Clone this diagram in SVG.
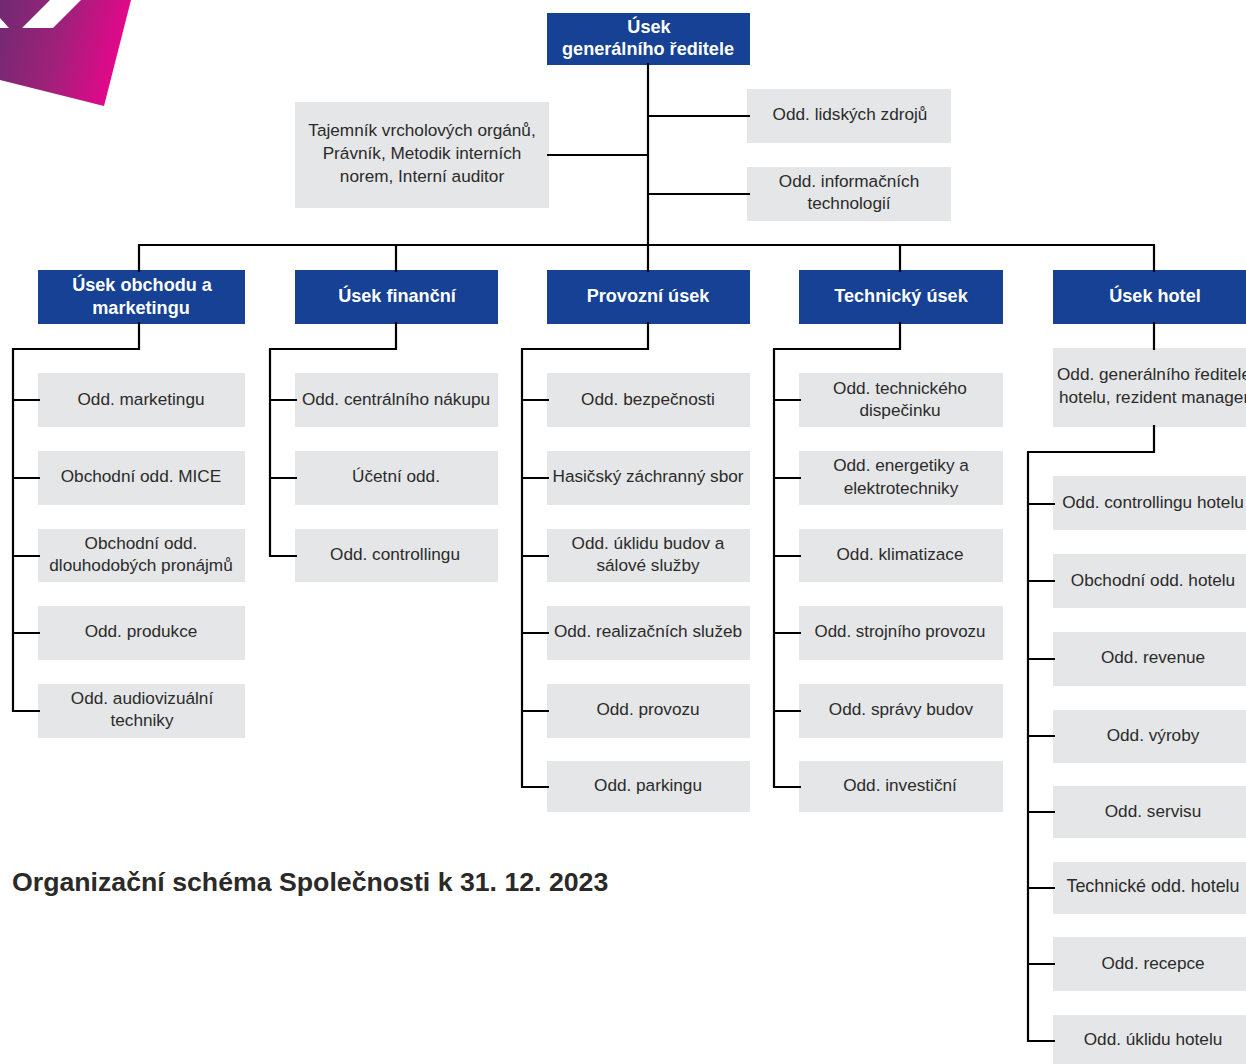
<svg xmlns="http://www.w3.org/2000/svg" width="1246" height="1064" viewBox="0 0 1246 1064">
<style>
.h{fill:#164194}.o{fill:#e5e6e8}
text{font-family:"Liberation Sans",Arial,sans-serif;text-anchor:middle}
.ht{font-size:18.1px;font-weight:bold;fill:#fff}
.ot{font-size:17.2px;fill:#2b2b2a;transform:translateY(-0.6px)}
.c{fill:none;stroke:#000;stroke-width:2.2}
</style>
<defs><linearGradient id="g" gradientUnits="userSpaceOnUse" x1="0" y1="0" x2="123" y2="31"><stop offset="0" stop-color="#702b72"/><stop offset="0.55" stop-color="#a2207a"/><stop offset="1" stop-color="#e2088a"/></linearGradient></defs>
<path id="logo" fill="url(#g)" d="M0 0H50L22 28H53L81 0H131L104 106L0 80V28H9L0 18Z"/>
<g id="n0"><rect class="h" x="547" y="13" width="203" height="52"/><text class="ht"><tspan x="649" y="33">Úsek</tspan><tspan x="648" y="55">generálního ředitele</tspan></text></g>
<g id="n1"><rect class="o" x="747" y="89" width="204" height="54"/><text class="ot" x="850" y="121">Odd. lidských zdrojů</text></g>
<g id="n2"><rect class="o" x="747" y="167" width="204" height="54"/><text class="ot"><tspan x="849" y="188">Odd. informačních</tspan><tspan x="849" y="210">technologií</tspan></text></g>
<g id="n3"><rect class="o" x="295" y="102" width="254" height="106"/><text class="ot"><tspan x="422" y="137">Tajemník vrcholových orgánů,</tspan><tspan x="422" y="160">Právník, Metodik interních</tspan><tspan x="422" y="183">norem, Interní auditor</tspan></text></g>
<g id="h1"><rect class="h" x="38" y="270" width="207" height="54"/><text class="ht"><tspan x="142" y="291">Úsek obchodu a</tspan><tspan x="141" y="314">marketingu</tspan></text></g>
<g id="h2"><rect class="h" x="295" y="270" width="203" height="54"/><text class="ht" x="397" y="302">Úsek finanční</text></g>
<g id="h3"><rect class="h" x="547" y="270" width="203" height="54"/><text class="ht" x="648" y="302">Provozní úsek</text></g>
<g id="h4"><rect class="h" x="799" y="270" width="204" height="54"/><text class="ht" x="901" y="302">Technický úsek</text></g>
<g id="h5"><rect class="h" x="1053" y="270" width="193" height="54"/><text class="ht" x="1155" y="302">Úsek hotel</text></g>
<g id="a1"><rect class="o" x="38" y="373" width="207" height="54"/><text class="ot" x="141" y="406">Odd. marketingu</text></g>
<g id="a2"><rect class="o" x="38" y="451" width="207" height="54"/><text class="ot" x="141" y="483">Obchodní odd. MICE</text></g>
<g id="a3"><rect class="o" x="38" y="529" width="207" height="53"/><text class="ot"><tspan x="141" y="550">Obchodní odd.</tspan><tspan x="141" y="572">dlouhodobých pronájmů</tspan></text></g>
<g id="a4"><rect class="o" x="38" y="606" width="207" height="54"/><text class="ot" x="141" y="638">Odd. produkce</text></g>
<g id="a5"><rect class="o" x="38" y="684" width="207" height="54"/><text class="ot"><tspan x="142" y="705">Odd. audiovizuální</tspan><tspan x="142" y="727">techniky</tspan></text></g>
<g id="b1"><rect class="o" x="295" y="373" width="203" height="54"/><text class="ot" x="396" y="406">Odd. centrálního nákupu</text></g>
<g id="b2"><rect class="o" x="295" y="451" width="203" height="54"/><text class="ot" x="396" y="483">Účetní odd.</text></g>
<g id="b3"><rect class="o" x="295" y="529" width="203" height="53"/><text class="ot" x="395" y="561">Odd. controllingu</text></g>
<g id="c1"><rect class="o" x="547" y="373" width="203" height="54"/><text class="ot" x="648" y="406">Odd. bezpečnosti</text></g>
<g id="c2"><rect class="o" x="547" y="451" width="203" height="54"/><text class="ot" x="648" y="483">Hasičský záchranný sbor</text></g>
<g id="c3"><rect class="o" x="547" y="529" width="203" height="53"/><text class="ot"><tspan x="648" y="550">Odd. úklidu budov a</tspan><tspan x="648" y="572">sálové služby</tspan></text></g>
<g id="c4"><rect class="o" x="547" y="606" width="203" height="54"/><text class="ot" x="648" y="638">Odd. realizačních služeb</text></g>
<g id="c5"><rect class="o" x="547" y="684" width="203" height="54"/><text class="ot" x="648" y="716">Odd. provozu</text></g>
<g id="c6"><rect class="o" x="547" y="761" width="203" height="51"/><text class="ot" x="648" y="792">Odd. parkingu</text></g>
<g id="d1"><rect class="o" x="799" y="373" width="204" height="54"/><text class="ot"><tspan x="900" y="395">Odd. technického</tspan><tspan x="900" y="417">dispečinku</tspan></text></g>
<g id="d2"><rect class="o" x="799" y="451" width="204" height="54"/><text class="ot"><tspan x="901" y="472">Odd. energetiky a</tspan><tspan x="901" y="495">elektrotechniky</tspan></text></g>
<g id="d3"><rect class="o" x="799" y="529" width="204" height="53"/><text class="ot" x="900" y="561">Odd. klimatizace</text></g>
<g id="d4"><rect class="o" x="799" y="606" width="204" height="54"/><text class="ot" x="900" y="638" style="font-size:16.9px">Odd. strojního provozu</text></g>
<g id="d5"><rect class="o" x="799" y="684" width="204" height="54"/><text class="ot" x="901" y="716">Odd. správy budov</text></g>
<g id="d6"><rect class="o" x="799" y="761" width="204" height="51"/><text class="ot" x="900" y="792">Odd. investiční</text></g>
<g id="e0"><rect class="o" x="1053" y="348" width="193" height="79"/><text class="ot"><tspan x="1057" y="381" style="text-anchor:start">Odd. generálního ředitele</tspan><tspan x="1059" y="404" style="text-anchor:start">hotelu, rezident manager</tspan></text></g>
<g id="e1"><rect class="o" x="1053" y="476" width="193" height="54"/><text class="ot" x="1153" y="509">Odd. controllingu hotelu</text></g>
<g id="e2"><rect class="o" x="1053" y="554" width="193" height="54"/><text class="ot" x="1153" y="587">Obchodní odd. hotelu</text></g>
<g id="e3"><rect class="o" x="1053" y="632" width="193" height="54"/><text class="ot" x="1153" y="664">Odd. revenue</text></g>
<g id="e4"><rect class="o" x="1053" y="710" width="193" height="53"/><text class="ot" x="1153" y="742">Odd. výroby</text></g>
<g id="e5"><rect class="o" x="1053" y="786" width="193" height="52"/><text class="ot" x="1153" y="818">Odd. servisu</text></g>
<g id="e6"><rect class="o" x="1053" y="862" width="193" height="52"/><text class="ot" x="1153" y="893" style="font-size:17.9px">Technické odd. hotelu</text></g>
<g id="e7"><rect class="o" x="1053" y="937" width="193" height="54"/><text class="ot" x="1153" y="970">Odd. recepce</text></g>
<g id="e8"><rect class="o" x="1053" y="1015" width="193" height="49"/><text class="ot" x="1153" y="1046">Odd. úklidu hotelu</text></g>
<text id="title" x="12" y="891" style="text-anchor:start;font-size:26.7px;font-weight:bold;fill:#2b2a29">Organizační schéma Společnosti k 31. 12. 2023</text>
<g id="connectors" class="c">
<path d="M648 63V272M648 116H750M648 194H750M547 155H648"/>
<path d="M139 272V245H1154V272M396 245V272M900 245V272"/>
<path d="M139 322V349H13V711H40M13 400H40M13 478H40M13 556H40M13 633H40"/>
<path d="M396 322V349H270V556H297M270 400H297M270 478H297"/>
<path d="M648 322V349H522V787H549M522 400H549M522 478H549M522 556H549M522 633H549M522 711H549"/>
<path d="M900 322V349H774V787H801M774 400H801M774 478H801M774 556H801M774 633H801M774 711H801"/>
<path d="M1154 322V350M1154 425V452H1028V1041H1055M1028 504H1055M1028 581H1055M1028 659H1055M1028 736H1055M1028 812H1055M1028 888H1055M1028 964H1055"/>
</g>
</svg>
